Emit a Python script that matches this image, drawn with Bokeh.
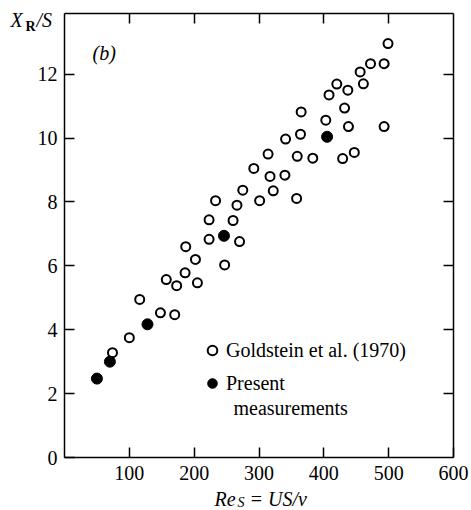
from bokeh.plotting import figure
from bokeh.models import LinearAxis, FixedTicker, Range1d, Label, Legend, LegendItem
from bokeh.embed import file_html
from bokeh.resources import INLINE

# ---- data ----
re_goldstein = [74, 100, 116, 148, 170, 157, 173, 186, 205, 202, 187, 247, 223, 270,
                223, 260, 233, 266, 275, 301, 322, 358, 292, 317, 340, 314, 359, 383,
                429, 447, 341, 364, 403, 438, 493, 365, 432, 408, 420, 437, 461, 456,
                472, 493, 499]
xr_goldstein = [3.28, 3.75, 4.95, 4.53, 4.47, 5.57, 5.38, 5.78, 5.47, 6.2, 6.6, 6.03, 6.83, 6.76,
                7.44, 7.42, 8.04, 7.9, 8.37, 8.04, 8.35, 8.11, 9.05, 8.8, 8.84, 9.5, 9.43, 9.37,
                9.36, 9.55, 9.97, 10.12, 10.56, 10.36, 10.36, 10.82, 10.94, 11.35, 11.69, 11.5, 11.7, 12.07,
                12.33, 12.33, 12.96]
re_present = [50, 70, 128, 246, 405]
xr_present = [2.47, 3.0, 4.17, 6.94, 10.04]

x_ticks = [100, 200, 300, 400, 500, 600]
x_ticks_top = [100, 200, 300, 400, 500]
y_ticks = [0, 2, 4, 6, 8, 10, 12]
y_ticks_right = [2, 4, 6, 8, 10, 12]

X_MAX, Y_MAX = 600, 13.9
W, H = 471, 510
# where the data box sits inside the canvas (pixels)
BL, BR, BT, BB = 64, 18, 13, 53
FW, FH = W - BL - BR, H - BT - BB
FONT = "Liberation Serif"

# the frame covers the whole canvas; the data box [0,600]x[0,13.9] is placed by the ranges
x_lo = -BL / FW * X_MAX
x_hi = X_MAX + BR / FW * X_MAX
y_lo = -BB / FH * Y_MAX
y_hi = Y_MAX + BT / FH * Y_MAX

p = figure(width=W, height=H, output_backend="svg", toolbar_location=None,
           x_range=Range1d(x_lo, x_hi), y_range=Range1d(y_lo, y_hi),
           min_border=0, x_axis_location=None, y_axis_location=None)
p.grid.visible = False
p.outline_line_color = None
p.background_fill_color = "white"
p.border_fill_color = "white"


def make_axis(ticks, bounds, loc, show_labels, standoff=8):
    ax = LinearAxis(fixed_location=loc, bounds=bounds)
    ax.ticker = FixedTicker(ticks=ticks)
    ax.axis_line_width = 1.5
    ax.axis_line_color = "black"
    ax.major_tick_line_width = 1.5
    ax.major_tick_line_color = "black"
    ax.major_tick_in = 10
    ax.major_tick_out = 0
    ax.minor_tick_line_color = None
    ax.major_label_text_font = FONT
    ax.major_label_text_font_size = "20px"
    ax.major_label_standoff = standoff
    ax.major_label_text_color = "black" if show_labels else None
    return ax


p.add_layout(make_axis(x_ticks, (0, X_MAX), 0, True, 8), "below")
p.add_layout(make_axis(y_ticks, (0, Y_MAX), 0, True, 7), "left")
p.add_layout(make_axis(x_ticks_top, (0, X_MAX), Y_MAX, False), "above")
p.add_layout(make_axis(y_ticks_right, (0, Y_MAX), X_MAX, False), "right")

r_open = p.scatter(re_goldstein, xr_goldstein, marker="circle", size=9, line_width=2,
                   line_color="black", fill_color="white")
r_fill = p.scatter(re_present, xr_present, marker="circle", size=11, line_width=1,
                   line_color="black", fill_color="black")


# helpers: page pixel -> data coordinate
def px2x(px):
    return (px - BL) / FW * X_MAX


def px2y(py):
    return (BT + FH - py) / FH * Y_MAX


def lab(px, py, text, size=20, style="italic"):
    # Bokeh's alphabetic baseline lands ~0.3 em lower than asked; compensate
    py = py - 0.3 * size
    p.add_layout(Label(x=px2x(px), y=px2y(py), text=text, text_font=FONT,
                       text_font_size=f"{size}px", text_font_style=style,
                       text_color="black", text_baseline="alphabetic", text_align="left"))


# y-axis title  X_R / S
lab(10, 25, "X")
lab(25, 30, "R", size=14, style="bold")
lab(36, 25, "/S")
# panel tag
lab(92, 58, "(b)")
# x-axis title  Re_S = US/nu
lab(214, 504, "Re")
lab(237, 506, "S", size=14)
lab(249, 504, "= US/ν")
# second line of the legend entry
lab(233, 413, "measurements", style="normal")

legend = Legend(items=[LegendItem(label="Goldstein et al. (1970)", renderers=[r_open]),
                       LegendItem(label="Present", renderers=[r_fill])],
                location=(200, 115), padding=0, margin=0, spacing=9,
                glyph_width=24, glyph_height=24, label_standoff=2, label_height=24,
                label_text_font=FONT, label_text_font_size="20px", label_text_color="black",
                border_line_color=None, background_fill_alpha=0)
p.add_layout(legend)

open("out.html", "w").write(file_html(p, INLINE))
